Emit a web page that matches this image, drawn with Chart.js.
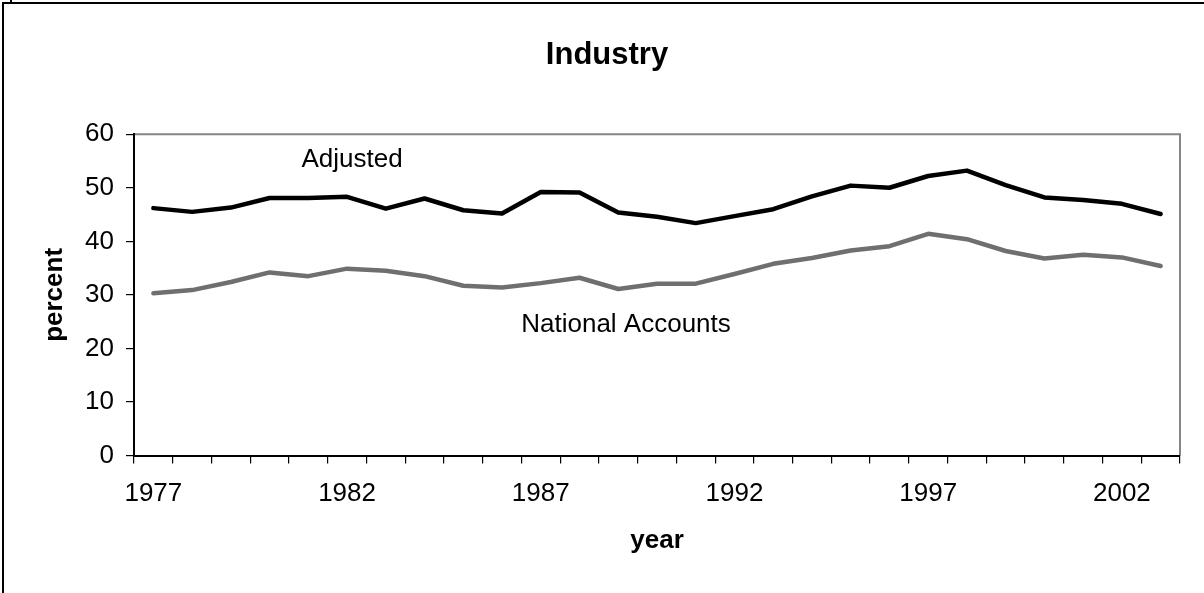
<!DOCTYPE html>
<html>
<head>
<meta charset="utf-8">
<title>Industry</title>
<script src="https://cdn.jsdelivr.net/npm/chart.js@4/dist/chart.umd.min.js"></script>
<style>
  html, body { margin: 0; padding: 0; background: #fff; }
  canvas { display: block; }
</style>
</head>
<body>
<canvas id="chart" width="1204" height="593"></canvas>
<script>
const years = ['1977', '1978', '1979', '1980', '1981', '1982', '1983', '1984', '1985',
  '1986', '1987', '1988', '1989', '1990', '1991', '1992', '1993', '1994', '1995',
  '1996', '1997', '1998', '1999', '2000', '2001', '2002', '2003']

const adjusted = [46.2, 45.5, 46.3, 48.1, 48.1, 48.3, 46.1, 48.0, 45.8, 45.2, 49.2,
  49.1, 45.4, 44.6, 43.4, 44.7, 46.0, 48.4, 50.4, 50.0, 52.2, 53.2, 50.5, 48.2,
  47.7, 47.0, 45.1]

const nationalAccounts = [30.3, 30.9, 32.4, 34.2, 33.5, 34.9, 34.5, 33.5, 31.7, 31.4,
  32.2, 33.2, 31.1, 32.1, 32.1, 33.9, 35.8, 36.9, 38.3, 39.1, 41.4, 40.4, 38.2,
  36.8, 37.5, 37.0, 35.4]

const yTicks = [0, 10, 20, 30, 40, 50, 60]

const FONT = "'Liberation Sans', Arial, Helvetica, sans-serif"

// outer frame + grey top/right edge of the plot box (drawn before the axes)
const frame = {
  id: 'frame',
  beforeDraw(chart) {
    const { ctx, chartArea: a } = chart
    ctx.save()
    ctx.strokeStyle = '#000'
    ctx.lineWidth = 2
    ctx.beginPath()
    ctx.moveTo(3, chart.height)
    ctx.lineTo(3, 3)
    ctx.lineTo(chart.width, 3)
    ctx.moveTo(11, 0)
    ctx.lineTo(11, 3)
    ctx.stroke()

    ctx.strokeStyle = '#858585'
    ctx.lineWidth = 2
    ctx.beginPath()
    ctx.moveTo(a.left, a.top)
    ctx.lineTo(a.right, a.top)
    ctx.lineTo(a.right, a.bottom)
    ctx.stroke()
    ctx.restore()
  }
}

// series names written next to their lines
const seriesNames = {
  id: 'seriesNames',
  afterDatasetsDraw(chart) {
    const { ctx, scales: { x, y } } = chart
    ctx.save()
    ctx.fillStyle = '#000'
    ctx.font = '26px ' + FONT
    ctx.textAlign = 'center'
    ctx.textBaseline = 'middle'
    ctx.fillText('Adjusted', x.getPixelForValue(5.13), y.getPixelForValue(55.2))
    ctx.fillText('National Accounts', x.getPixelForValue(12.2), y.getPixelForValue(24.4))
    ctx.restore()
  }
}

new Chart(document.getElementById('chart'), {
  type: 'line',
  data: {
    labels: years,
    datasets: [
      {
        label: 'Adjusted',
        data: adjusted,
        borderColor: '#000',
        borderWidth: 4.5,
        pointRadius: 0,
        tension: 0,
        borderJoinStyle: 'round',
        borderCapStyle: 'round'
      },
      {
        label: 'National Accounts',
        data: nationalAccounts,
        borderColor: '#6f6f6f',
        borderWidth: 4.5,
        pointRadius: 0,
        tension: 0,
        borderJoinStyle: 'round',
        borderCapStyle: 'round'
      }
    ]
  },
  options: {
    responsive: false,
    animation: false,
    devicePixelRatio: 1,
    layout: { padding: { left: 34, right: 24, top: 0, bottom: 30 } },
    plugins: {
      legend: { display: false },
      tooltip: { enabled: false },
      title: {
        display: true,
        text: 'Industry',
        color: '#000',
        font: { family: FONT, size: 31, weight: 'bold' },
        padding: { top: 37, bottom: 60 }
      }
    },
    scales: {
      x: {
        offset: true,
        grid: {
          offset: true,
          drawOnChartArea: false,
          tickLength: 8,
          color: '#000',
          lineWidth: 1.2
        },
        border: { color: '#000', width: 2 },
        ticks: {
          autoSkip: false,
          maxRotation: 0,
          padding: 15,
          color: '#000',
          font: { family: FONT, size: 26 },
          callback: (v, i) => (i % 5 === 0 ? years[i] : '')
        },
        title: {
          display: true,
          text: 'year',
          color: '#000',
          font: { family: FONT, size: 26, weight: 'bold' },
          padding: { top: 0, bottom: 7 }
        }
      },
      y: {
        min: yTicks[0],
        max: yTicks[yTicks.length - 1],
        afterBuildTicks: (scale) => {
          scale.ticks = yTicks.map((v) => ({ value: v }))
        },
        afterFit: (scale) => {
          scale.width = 100
        },
        grid: {
          drawOnChartArea: false,
          tickLength: 8,
          color: '#000',
          lineWidth: 1.2
        },
        border: { color: '#000', width: 2 },
        ticks: {
          padding: 12,
          color: '#000',
          font: { family: FONT, size: 26 }
        },
        title: {
          display: true,
          text: 'percent',
          color: '#000',
          font: { family: FONT, size: 26, weight: 'bold' },
          padding: { top: 5, bottom: 0 }
        }
      }
    }
  },
  plugins: [frame, seriesNames]
})
</script>
</body>
</html>
